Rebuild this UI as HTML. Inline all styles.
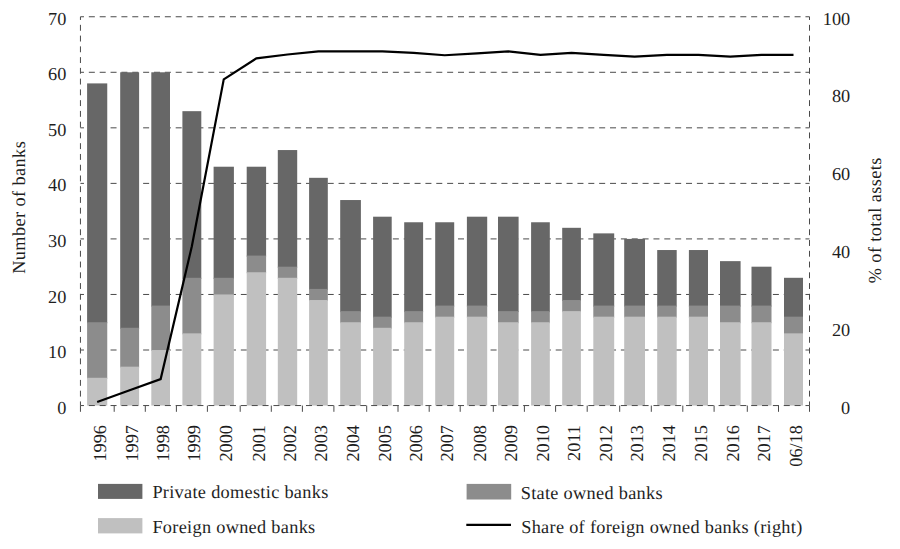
<!DOCTYPE html>
<html><head><meta charset="utf-8"><style>
html,body{margin:0;padding:0;background:#fff;width:900px;height:549px;overflow:hidden}
svg{position:absolute;left:0;top:0}
.t{font-family:"Liberation Serif",serif;font-size:18.3px;fill:#1e1e1e;text-rendering:geometricPrecision}
.l{letter-spacing:0.3px}
.a{letter-spacing:0.4px}
</style></head><body>
<svg width="900" height="549" viewBox="0 0 900 549">
<line x1="80.45" y1="350.01" x2="809.50" y2="350.01" stroke="#4a4a4a" stroke-width="1" stroke-dasharray="6 4.858" stroke-dashoffset="2.47"/>
<line x1="80.45" y1="294.46" x2="809.50" y2="294.46" stroke="#4a4a4a" stroke-width="1" stroke-dasharray="6 4.858" stroke-dashoffset="2.47"/>
<line x1="80.45" y1="238.92" x2="809.50" y2="238.92" stroke="#4a4a4a" stroke-width="1" stroke-dasharray="6 4.858" stroke-dashoffset="2.47"/>
<line x1="80.45" y1="183.38" x2="809.50" y2="183.38" stroke="#4a4a4a" stroke-width="1" stroke-dasharray="6 4.858" stroke-dashoffset="2.47"/>
<line x1="80.45" y1="127.84" x2="809.50" y2="127.84" stroke="#4a4a4a" stroke-width="1" stroke-dasharray="6 4.858" stroke-dashoffset="2.47"/>
<line x1="80.45" y1="72.29" x2="809.50" y2="72.29" stroke="#4a4a4a" stroke-width="1" stroke-dasharray="6 4.858" stroke-dashoffset="2.47"/>
<line x1="80.45" y1="16.75" x2="809.50" y2="16.75" stroke="#4a4a4a" stroke-width="1" stroke-dasharray="6 4.858" stroke-dashoffset="2.47"/>
<rect x="87.10" y="83.40" width="20.15" height="239.83" fill="#676767"/>
<rect x="87.10" y="322.24" width="20.15" height="56.54" fill="#8c8c8c"/>
<rect x="87.10" y="377.78" width="20.15" height="27.77" fill="#c0c0c0"/>
<rect x="120.20" y="72.29" width="18.90" height="256.50" fill="#676767"/>
<rect x="120.20" y="327.79" width="18.90" height="39.88" fill="#8c8c8c"/>
<rect x="120.20" y="366.67" width="18.90" height="38.88" fill="#c0c0c0"/>
<rect x="151.30" y="72.29" width="18.70" height="234.28" fill="#676767"/>
<rect x="151.30" y="305.57" width="18.70" height="45.43" fill="#8c8c8c"/>
<rect x="151.30" y="350.01" width="18.70" height="55.54" fill="#c0c0c0"/>
<rect x="182.40" y="111.17" width="18.90" height="167.63" fill="#676767"/>
<rect x="182.40" y="277.80" width="18.90" height="56.54" fill="#8c8c8c"/>
<rect x="182.40" y="333.34" width="18.90" height="72.21" fill="#c0c0c0"/>
<rect x="213.60" y="166.72" width="20.30" height="112.09" fill="#676767"/>
<rect x="213.60" y="277.80" width="20.30" height="17.66" fill="#8c8c8c"/>
<rect x="213.60" y="294.46" width="20.30" height="111.09" fill="#c0c0c0"/>
<rect x="246.70" y="166.72" width="19.40" height="89.87" fill="#676767"/>
<rect x="246.70" y="255.58" width="19.40" height="17.66" fill="#8c8c8c"/>
<rect x="246.70" y="272.25" width="19.40" height="133.30" fill="#c0c0c0"/>
<rect x="277.80" y="150.05" width="19.40" height="117.64" fill="#676767"/>
<rect x="277.80" y="266.69" width="19.40" height="12.11" fill="#8c8c8c"/>
<rect x="277.80" y="277.80" width="19.40" height="127.75" fill="#c0c0c0"/>
<rect x="309.10" y="177.82" width="18.70" height="112.09" fill="#676767"/>
<rect x="309.10" y="288.91" width="18.70" height="12.11" fill="#8c8c8c"/>
<rect x="309.10" y="300.02" width="18.70" height="105.53" fill="#c0c0c0"/>
<rect x="340.20" y="200.04" width="20.70" height="112.09" fill="#676767"/>
<rect x="340.20" y="311.13" width="20.70" height="12.11" fill="#8c8c8c"/>
<rect x="340.20" y="322.24" width="20.70" height="83.31" fill="#c0c0c0"/>
<rect x="373.10" y="216.70" width="18.60" height="100.98" fill="#676767"/>
<rect x="373.10" y="316.68" width="18.60" height="12.11" fill="#8c8c8c"/>
<rect x="373.10" y="327.79" width="18.60" height="77.76" fill="#c0c0c0"/>
<rect x="404.20" y="222.26" width="18.90" height="89.87" fill="#676767"/>
<rect x="404.20" y="311.13" width="18.90" height="12.11" fill="#8c8c8c"/>
<rect x="404.20" y="322.24" width="18.90" height="83.31" fill="#c0c0c0"/>
<rect x="435.20" y="222.26" width="19.00" height="84.31" fill="#676767"/>
<rect x="435.20" y="305.57" width="19.00" height="12.11" fill="#8c8c8c"/>
<rect x="435.20" y="316.68" width="19.00" height="88.87" fill="#c0c0c0"/>
<rect x="466.90" y="216.70" width="20.30" height="89.87" fill="#676767"/>
<rect x="466.90" y="305.57" width="20.30" height="12.11" fill="#8c8c8c"/>
<rect x="466.90" y="316.68" width="20.30" height="88.87" fill="#c0c0c0"/>
<rect x="498.00" y="216.70" width="20.60" height="95.42" fill="#676767"/>
<rect x="498.00" y="311.13" width="20.60" height="12.11" fill="#8c8c8c"/>
<rect x="498.00" y="322.24" width="20.60" height="83.31" fill="#c0c0c0"/>
<rect x="531.10" y="222.26" width="18.70" height="89.87" fill="#676767"/>
<rect x="531.10" y="311.13" width="18.70" height="12.11" fill="#8c8c8c"/>
<rect x="531.10" y="322.24" width="18.70" height="83.31" fill="#c0c0c0"/>
<rect x="562.20" y="227.81" width="18.70" height="73.21" fill="#676767"/>
<rect x="562.20" y="300.02" width="18.70" height="12.11" fill="#8c8c8c"/>
<rect x="562.20" y="311.13" width="18.70" height="94.42" fill="#c0c0c0"/>
<rect x="593.30" y="233.37" width="20.90" height="73.21" fill="#676767"/>
<rect x="593.30" y="305.57" width="20.90" height="12.11" fill="#8c8c8c"/>
<rect x="593.30" y="316.68" width="20.90" height="88.87" fill="#c0c0c0"/>
<rect x="624.20" y="238.92" width="20.80" height="67.65" fill="#676767"/>
<rect x="624.20" y="305.57" width="20.80" height="12.11" fill="#8c8c8c"/>
<rect x="624.20" y="316.68" width="20.80" height="88.87" fill="#c0c0c0"/>
<rect x="657.20" y="250.03" width="19.50" height="56.54" fill="#676767"/>
<rect x="657.20" y="305.57" width="19.50" height="12.11" fill="#8c8c8c"/>
<rect x="657.20" y="316.68" width="19.50" height="88.87" fill="#c0c0c0"/>
<rect x="688.90" y="250.03" width="19.10" height="56.54" fill="#676767"/>
<rect x="688.90" y="305.57" width="19.10" height="12.11" fill="#8c8c8c"/>
<rect x="688.90" y="316.68" width="19.10" height="88.87" fill="#c0c0c0"/>
<rect x="720.00" y="261.14" width="20.60" height="45.43" fill="#676767"/>
<rect x="720.00" y="305.57" width="20.60" height="17.66" fill="#8c8c8c"/>
<rect x="720.00" y="322.24" width="20.60" height="83.31" fill="#c0c0c0"/>
<rect x="751.50" y="266.69" width="20.00" height="39.88" fill="#676767"/>
<rect x="751.50" y="305.57" width="20.00" height="17.66" fill="#8c8c8c"/>
<rect x="751.50" y="322.24" width="20.00" height="83.31" fill="#c0c0c0"/>
<rect x="784.00" y="277.80" width="19.00" height="39.88" fill="#676767"/>
<rect x="784.00" y="316.68" width="19.00" height="17.66" fill="#8c8c8c"/>
<rect x="784.00" y="333.34" width="19.00" height="72.21" fill="#c0c0c0"/>
<line x1="80.45" y1="405.55" x2="809.50" y2="405.55" stroke="#4a4a4a" stroke-width="1" stroke-dasharray="6 4.858" stroke-dashoffset="2.47"/>
<line x1="80.45" y1="16.75" x2="80.45" y2="405.55" stroke="#4a4a4a" stroke-width="1" stroke-dasharray="5.9 4.86" stroke-dashoffset="2.67"/>
<line x1="809.50" y1="16.75" x2="809.50" y2="405.55" stroke="#4a4a4a" stroke-width="1" stroke-dasharray="5.9 4.86" stroke-dashoffset="2.67"/>
<line x1="80.45" y1="405.55" x2="80.45" y2="411.8" stroke="#4a4a4a" stroke-width="1"/>
<line x1="114.20" y1="405.55" x2="114.20" y2="411.8" stroke="#4a4a4a" stroke-width="1"/>
<line x1="145.30" y1="405.55" x2="145.30" y2="411.8" stroke="#4a4a4a" stroke-width="1"/>
<line x1="176.40" y1="405.55" x2="176.40" y2="411.8" stroke="#4a4a4a" stroke-width="1"/>
<line x1="207.40" y1="405.55" x2="207.40" y2="411.8" stroke="#4a4a4a" stroke-width="1"/>
<line x1="240.20" y1="405.55" x2="240.20" y2="411.8" stroke="#4a4a4a" stroke-width="1"/>
<line x1="271.30" y1="405.55" x2="271.30" y2="411.8" stroke="#4a4a4a" stroke-width="1"/>
<line x1="302.40" y1="405.55" x2="302.40" y2="411.8" stroke="#4a4a4a" stroke-width="1"/>
<line x1="333.90" y1="405.55" x2="333.90" y2="411.8" stroke="#4a4a4a" stroke-width="1"/>
<line x1="366.70" y1="405.55" x2="366.70" y2="411.8" stroke="#4a4a4a" stroke-width="1"/>
<line x1="398.00" y1="405.55" x2="398.00" y2="411.8" stroke="#4a4a4a" stroke-width="1"/>
<line x1="429.20" y1="405.55" x2="429.20" y2="411.8" stroke="#4a4a4a" stroke-width="1"/>
<line x1="460.20" y1="405.55" x2="460.20" y2="411.8" stroke="#4a4a4a" stroke-width="1"/>
<line x1="493.30" y1="405.55" x2="493.30" y2="411.8" stroke="#4a4a4a" stroke-width="1"/>
<line x1="524.40" y1="405.55" x2="524.40" y2="411.8" stroke="#4a4a4a" stroke-width="1"/>
<line x1="555.60" y1="405.55" x2="555.60" y2="411.8" stroke="#4a4a4a" stroke-width="1"/>
<line x1="587.20" y1="405.55" x2="587.20" y2="411.8" stroke="#4a4a4a" stroke-width="1"/>
<line x1="619.70" y1="405.55" x2="619.70" y2="411.8" stroke="#4a4a4a" stroke-width="1"/>
<line x1="651.30" y1="405.55" x2="651.30" y2="411.8" stroke="#4a4a4a" stroke-width="1"/>
<line x1="682.80" y1="405.55" x2="682.80" y2="411.8" stroke="#4a4a4a" stroke-width="1"/>
<line x1="714.10" y1="405.55" x2="714.10" y2="411.8" stroke="#4a4a4a" stroke-width="1"/>
<line x1="747.30" y1="405.55" x2="747.30" y2="411.8" stroke="#4a4a4a" stroke-width="1"/>
<line x1="778.50" y1="405.55" x2="778.50" y2="411.8" stroke="#4a4a4a" stroke-width="1"/>
<line x1="809.50" y1="405.55" x2="809.50" y2="411.8" stroke="#4a4a4a" stroke-width="1"/>
<polyline points="97.17,401.96 129.65,390.31 160.65,379.05 191.85,246.27 223.75,79.32 256.40,58.35 287.50,54.47 318.45,51.37 350.55,51.37 382.40,51.37 413.65,52.92 444.70,55.25 477.05,53.31 508.30,51.37 540.45,54.86 571.55,52.92 603.75,54.97 634.60,56.61 666.95,54.97 698.45,54.97 730.30,56.61 761.50,54.97 793.50,54.97" fill="none" stroke="#000" stroke-width="2.2" stroke-linejoin="miter"/>
<text x="66.3" y="413.75" text-anchor="end" class="t">0</text>
<text x="66.3" y="358.15" text-anchor="end" class="t">10</text>
<text x="66.3" y="302.55" text-anchor="end" class="t">20</text>
<text x="66.3" y="246.95" text-anchor="end" class="t">30</text>
<text x="66.3" y="191.35" text-anchor="end" class="t">40</text>
<text x="66.3" y="135.75" text-anchor="end" class="t">50</text>
<text x="66.3" y="80.15" text-anchor="end" class="t">60</text>
<text x="66.3" y="24.55" text-anchor="end" class="t">70</text>
<text x="850.2" y="413.85" text-anchor="end" class="t">0</text>
<text x="850.2" y="335.99" text-anchor="end" class="t">20</text>
<text x="850.2" y="258.13" text-anchor="end" class="t">40</text>
<text x="850.2" y="180.27" text-anchor="end" class="t">60</text>
<text x="850.2" y="102.41" text-anchor="end" class="t">80</text>
<text x="850.2" y="24.55" text-anchor="end" class="t">100</text>
<text transform="translate(105.67,425) rotate(-90)" text-anchor="end" class="t">1996</text>
<text transform="translate(138.15,425) rotate(-90)" text-anchor="end" class="t">1997</text>
<text transform="translate(169.15,425) rotate(-90)" text-anchor="end" class="t">1998</text>
<text transform="translate(200.35,425) rotate(-90)" text-anchor="end" class="t">1999</text>
<text transform="translate(232.25,425) rotate(-90)" text-anchor="end" class="t">2000</text>
<text transform="translate(264.90,425) rotate(-90)" text-anchor="end" class="t">2001</text>
<text transform="translate(296.00,425) rotate(-90)" text-anchor="end" class="t">2002</text>
<text transform="translate(326.95,425) rotate(-90)" text-anchor="end" class="t">2003</text>
<text transform="translate(359.05,425) rotate(-90)" text-anchor="end" class="t">2004</text>
<text transform="translate(390.90,425) rotate(-90)" text-anchor="end" class="t">2005</text>
<text transform="translate(422.15,425) rotate(-90)" text-anchor="end" class="t">2006</text>
<text transform="translate(453.20,425) rotate(-90)" text-anchor="end" class="t">2007</text>
<text transform="translate(485.55,425) rotate(-90)" text-anchor="end" class="t">2008</text>
<text transform="translate(516.80,425) rotate(-90)" text-anchor="end" class="t">2009</text>
<text transform="translate(548.95,425) rotate(-90)" text-anchor="end" class="t">2010</text>
<text transform="translate(580.05,425) rotate(-90)" text-anchor="end" class="t">2011</text>
<text transform="translate(612.25,425) rotate(-90)" text-anchor="end" class="t">2012</text>
<text transform="translate(643.10,425) rotate(-90)" text-anchor="end" class="t">2013</text>
<text transform="translate(675.45,425) rotate(-90)" text-anchor="end" class="t">2014</text>
<text transform="translate(706.95,425) rotate(-90)" text-anchor="end" class="t">2015</text>
<text transform="translate(738.80,425) rotate(-90)" text-anchor="end" class="t">2016</text>
<text transform="translate(770.00,425) rotate(-90)" text-anchor="end" class="t">2017</text>
<text transform="translate(802.00,425) rotate(-90)" text-anchor="end" class="t">06/18</text>
<text transform="translate(24.8,207.3) rotate(-90)" text-anchor="middle" class="t a">Number of banks</text>
<text transform="translate(881.0,220.2) rotate(-90)" text-anchor="middle" class="t a">% of total assets</text>
<rect x="98" y="483.9" width="44.4" height="15" fill="#676767"/>
<rect x="98" y="518.1" width="44.4" height="15.3" fill="#c0c0c0"/>
<rect x="466.6" y="483.9" width="44.6" height="15.6" fill="#8c8c8c"/>
<line x1="466.3" y1="524.85" x2="511.0" y2="524.85" stroke="#000" stroke-width="2.2"/>
<text x="152.4" y="498.0" class="t l">Private domestic banks</text>
<text x="152.4" y="532.6" class="t l">Foreign owned banks</text>
<text x="520.7" y="499.2" class="t l">State owned banks</text>
<text x="521.2" y="532.6" class="t l">Share of foreign owned banks (right)</text>
</svg>
</body></html>
